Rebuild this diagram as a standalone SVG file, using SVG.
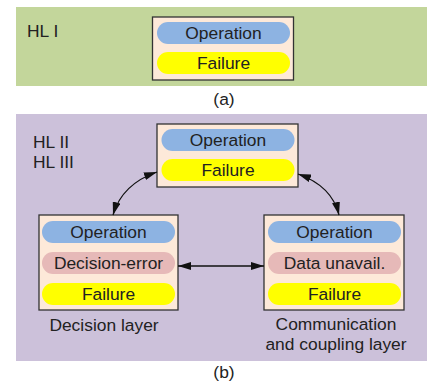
<svg xmlns="http://www.w3.org/2000/svg" width="427" height="387" viewBox="0 0 427 387">
<defs>
<style>
text{font-family:"Liberation Sans",Arial,sans-serif;font-size:17.4px;fill:#222}
.c{text-anchor:middle}
.box{fill:#FDE9D9;stroke:#333;stroke-width:1.3}
.op{fill:#8DB3E2}
.de{fill:#E6B9B8}
.fa{fill:#FFFF00}
.ln{fill:none;stroke:#111;stroke-width:1.3}
</style>
<marker id="ah" viewBox="0 0 13 8" refX="13" refY="4" markerWidth="13" markerHeight="8" markerUnits="userSpaceOnUse" orient="auto-start-reverse">
<path d="M0,0 L13,4 L0,8 z" fill="#111"/>
</marker>
</defs>
<rect x="16" y="7" width="411" height="79" fill="#C3D69B"/>
<rect x="16" y="114" width="411" height="247" fill="#CCC1DA"/>
<text x="27" y="37">HL I</text>
<text x="33" y="148">HL II</text>
<text x="33" y="168">HL III</text>
<text class="c" x="224" y="105">(a)</text>
<text class="c" x="224" y="378">(b)</text>
<g id="nodeA">
<rect class="box" x="152.5" y="17" width="141" height="63"/>
<rect class="op" x="157" y="22" width="133" height="22" rx="11"/>
<text class="c" x="223.5" y="39">Operation</text>
<rect class="fa" x="157" y="52" width="133" height="22" rx="11"/>
<text class="c" x="223.5" y="69">Failure</text>
</g>
<g id="nodeTop">
<rect class="box" x="157" y="124" width="141" height="63"/>
<rect class="op" x="161.5" y="129" width="133" height="22" rx="11"/>
<text class="c" x="228" y="146">Operation</text>
<rect class="fa" x="161.5" y="159" width="133" height="22" rx="11"/>
<text class="c" x="228" y="176">Failure</text>
</g>
<g id="nodeDecision">
<rect class="box" x="39" y="215" width="139" height="95"/>
<rect class="op" x="42" y="221" width="133" height="22" rx="11"/>
<text class="c" x="108.5" y="238">Operation</text>
<rect class="de" x="42" y="252" width="133" height="22" rx="11"/>
<text class="c" x="108.5" y="269">Decision-error</text>
<rect class="fa" x="42" y="283" width="133" height="22" rx="11"/>
<text class="c" x="108.5" y="300">Failure</text>
<text class="c" x="104" y="331">Decision layer</text>
</g>
<g id="nodeComm">
<rect class="box" x="264" y="215" width="140" height="95"/>
<rect class="op" x="268" y="221" width="133" height="22" rx="11"/>
<text class="c" x="334.5" y="238">Operation</text>
<rect class="de" x="268" y="252" width="133" height="22" rx="11"/>
<text class="c" x="334.5" y="269">Data unavail.</text>
<rect class="fa" x="268" y="283" width="133" height="22" rx="11"/>
<text class="c" x="334.5" y="300">Failure</text>
<text class="c" x="336" y="330">Communication</text>
<text class="c" x="336" y="350">and coupling layer</text>
</g>
<g id="connectors">
<path class="ln" d="M157,172 Q122,184 113,215" marker-start="url(#ah)" marker-end="url(#ah)"/>
<path class="ln" d="M298,174 Q332,186 339,215" marker-start="url(#ah)" marker-end="url(#ah)"/>
<path class="ln" d="M178,266 L264,266" marker-start="url(#ah)" marker-end="url(#ah)"/>
</g>
</svg>
